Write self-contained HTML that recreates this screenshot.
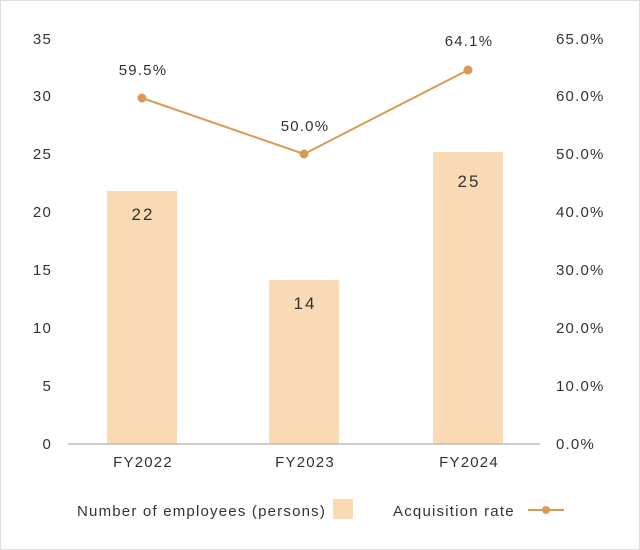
<!DOCTYPE html>
<html><head><style>
html,body{margin:0;padding:0;background:#fff}
svg{display:block}
text{font-family:"Liberation Sans",sans-serif;fill:#333;font-size:15px;letter-spacing:1.2px}
.b{font-size:17px;letter-spacing:2px}
</style></head><body>
<svg width="640" height="550" viewBox="0 0 640 550">
<rect x="0.5" y="0.5" width="639" height="549" fill="#fff" stroke="#ddd"/>
<g text-anchor="end">
<text x="52" y="449">0</text>
<text x="52" y="391">5</text>
<text x="52" y="333">10</text>
<text x="52" y="275">15</text>
<text x="52" y="217">20</text>
<text x="52" y="159">25</text>
<text x="52" y="101">30</text>
<text x="52" y="44">35</text>
</g>
<g text-anchor="start">
<text x="556" y="449">0.0%</text>
<text x="556" y="391">10.0%</text>
<text x="556" y="333">20.0%</text>
<text x="556" y="275">30.0%</text>
<text x="556" y="217">40.0%</text>
<text x="556" y="159">50.0%</text>
<text x="556" y="101">60.0%</text>
<text x="556" y="44">65.0%</text>
</g>
<rect x="107" y="191" width="70" height="253" fill="#fad9b5"/>
<rect x="269" y="280" width="70" height="164" fill="#fad9b5"/>
<rect x="433" y="152" width="70" height="292" fill="#fad9b5"/>
<line x1="68" y1="444" x2="540" y2="444" stroke="#bbb" stroke-width="1.5"/>
<g text-anchor="middle">
<text class="b" x="143" y="220">22</text>
<text class="b" x="305" y="309">14</text>
<text class="b" x="469" y="187">25</text>
<text x="143" y="467">FY2022</text>
<text x="305" y="467">FY2023</text>
<text x="469" y="467">FY2024</text>
<text x="143" y="75">59.5%</text>
<text x="305" y="131">50.0%</text>
<text x="469" y="46">64.1%</text>
</g>
<polyline points="142,98 304,154 468,70" fill="none" stroke="#d99a55" stroke-width="2"/>
<circle cx="142" cy="98" r="4.5" fill="#d99a55"/>
<circle cx="304" cy="154" r="4.5" fill="#d99a55"/>
<circle cx="468" cy="70" r="4.5" fill="#d99a55"/>
<text x="77" y="516">Number of employees (persons)</text>
<rect x="333" y="499" width="20" height="20" fill="#fad9b5"/>
<text x="393" y="516">Acquisition rate</text>
<line x1="528" y1="510" x2="564" y2="510" stroke="#d99a55" stroke-width="2"/>
<circle cx="546" cy="510" r="4" fill="#d99a55"/>
</svg>
</body></html>
